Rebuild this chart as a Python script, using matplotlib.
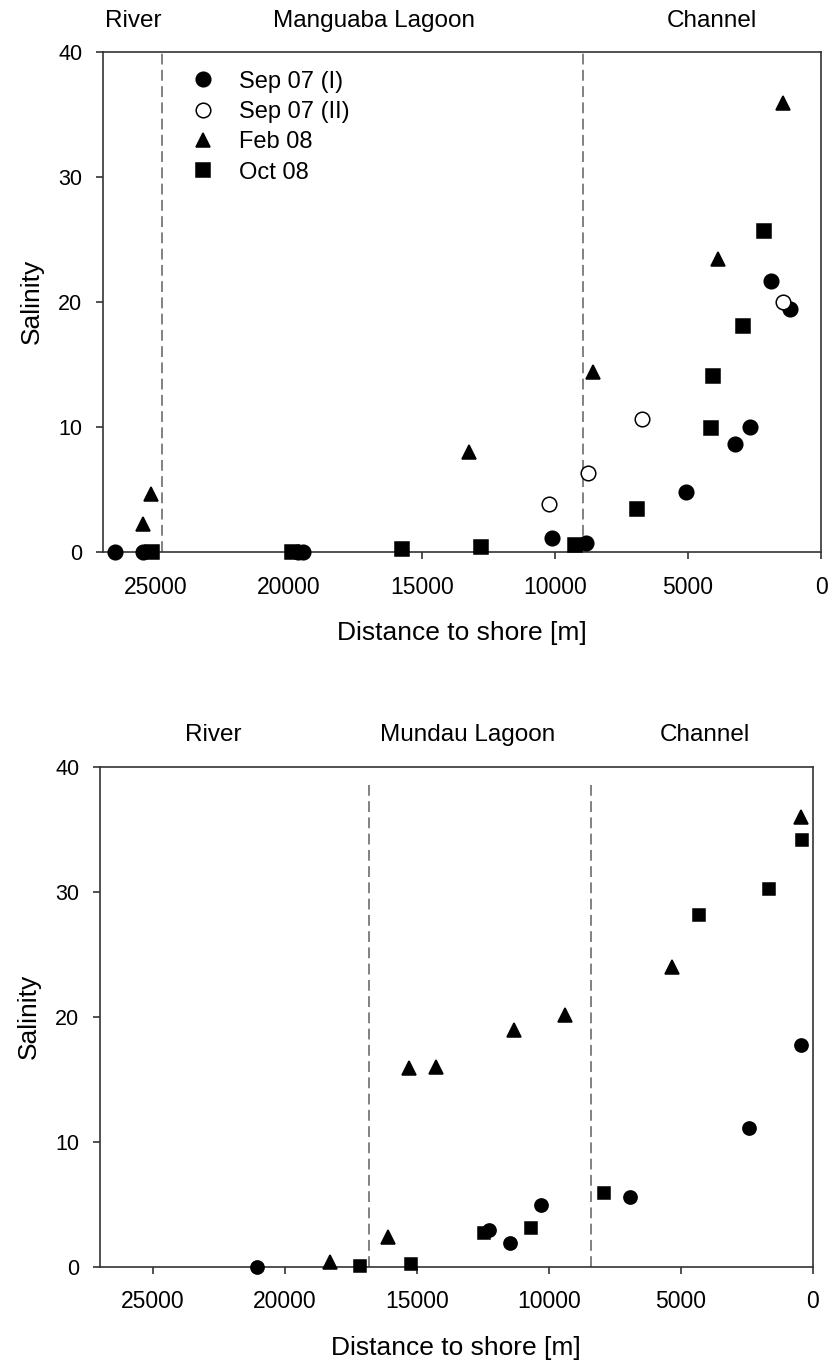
import matplotlib
matplotlib.use("Agg")
import matplotlib.pyplot as plt

plt.rcParams["font.family"] = ["Liberation Sans", "DejaVu Sans"]

# Manguaba transect (distance to shore in m, salinity)
mang_sep07a_x = [26550, 25480, 19660, 19470, 10120, 8830, 5090, 3230, 2670, 1890, 1170]
mang_sep07a_y = [0, 0, 0, 0, 1.1, 0.7, 4.8, 8.6, 10.0, 21.7, 19.4]
mang_sep07b_x = [10230, 8770, 6740, 1420]
mang_sep07b_y = [3.8, 6.3, 10.6, 20.0]
mang_feb08_x = [25500, 25190, 13220, 8560, 3860, 1420]
mang_feb08_y = [2.2, 4.6, 8.0, 14.4, 23.4, 35.9]
mang_oct08_x = [25160, 19890, 15760, 12790, 9250, 6930, 4140, 4050, 2920, 2140]
mang_oct08_y = [0, 0, 0.25, 0.4, 0.55, 3.4, 9.9, 14.1, 18.1, 25.7]
mang_bounds = [24800, 8950]

# Mundau transect
mund_sep07a_x = [21050, 12250, 11470, 10310, 6940, 2430, 440]
mund_sep07a_y = [0, 2.9, 1.9, 4.9, 5.55, 11.1, 17.7]
mund_feb08_x = [18280, 16100, 15310, 14280, 11310, 9380, 5320, 440]
mund_feb08_y = [0.35, 2.4, 15.9, 16.0, 18.9, 20.1, 24.0, 36.0]
mund_oct08_x = [17140, 15200, 12470, 10670, 7900, 4310, 1640, 420]
mund_oct08_y = [0.06, 0.2, 2.7, 3.1, 5.9, 28.1, 30.2, 34.1]
mund_bounds = [16800, 8400]

xticks = [25000, 20000, 15000, 10000, 5000, 0]
yticks = [0, 10, 20, 30, 40]

W, H = 831, 1364
fig = plt.figure(figsize=(W / 100, H / 100), dpi=100)
# axes boxes in pixels: left, top, right, bottom
ax1 = fig.add_axes([103 / W, 1 - 552 / H, (821 - 103) / W, (552 - 51.7) / H])
ax2 = fig.add_axes([100 / W, 1 - 1266.7 / H, (812.7 - 100) / W, (1266.7 - 766.7) / H])

spine_c = "#333333"


def style_axes(ax):
    ax.set_xlim(27000, 0)
    ax.set_ylim(0, 40)
    ax.set_xticks(xticks)
    ax.set_yticks(yticks)
    for s in ax.spines.values():
        s.set_color(spine_c)
        s.set_linewidth(1.2)
    ax.tick_params(direction="out", length=5, width=1.2, color=spine_c)
    ax.tick_params(axis="x", labelsize=16.5, pad=12)
    ax.tick_params(axis="y", labelsize=15.5, pad=10)
    ax.set_xlabel("Distance to shore [m]", fontsize=19, labelpad=16)
    ax.set_ylabel("Salinity", fontsize=19, labelpad=10)


def pts(ax, x, y, marker, ms, face="black", label=None):
    ax.plot(x, y, ls="none", marker=marker, ms=ms, mfc=face, mec="black",
            mew=1.1, clip_on=False, zorder=3, label=label)


def region(xpx, ypx, text):
    fig.text(xpx / W, 1 - ypx / H, text, ha="center", va="center", fontsize=17.5)


# top panel
for b in mang_bounds:
    ax1.axvline(b, color="#777777", lw=1.3, ls=(0, (6, 3)), zorder=1)
pts(ax1, mang_sep07a_x, mang_sep07a_y, "o", 10.5, label="Sep 07 (I)")
pts(ax1, mang_sep07b_x, mang_sep07b_y, "o", 10.5, face="white", label="Sep 07 (II)")
pts(ax1, mang_feb08_x, mang_feb08_y, "^", 10.5, label="Feb 08")
pts(ax1, mang_oct08_x, mang_oct08_y, "s", 9.5, label="Oct 08")
style_axes(ax1)
ax1.legend(loc="upper left", bbox_to_anchor=(0.096, 0.995), frameon=False,
           fontsize=17, handlelength=1.2, handletextpad=0.95, labelspacing=0.35,
           borderaxespad=0.3)

region(133, 21, "River")
region(374, 21, "Manguaba Lagoon")
region(712, 21, "Channel")

# bottom panel
for b in mund_bounds:
    ax2.plot([b, b], [0, 38.5], color="#777777", lw=1.3, ls=(0, (6, 3)), zorder=1)
pts(ax2, mund_sep07a_x, mund_sep07a_y, "o", 9.5)
pts(ax2, mund_feb08_x, mund_feb08_y, "^", 9.5)
pts(ax2, mund_oct08_x, mund_oct08_y, "s", 8.5)
style_axes(ax2)

region(213, 735, "River")
region(468, 735, "Mundau Lagoon")
region(705, 735, "Channel")

fig.savefig("out.png", dpi=100)
